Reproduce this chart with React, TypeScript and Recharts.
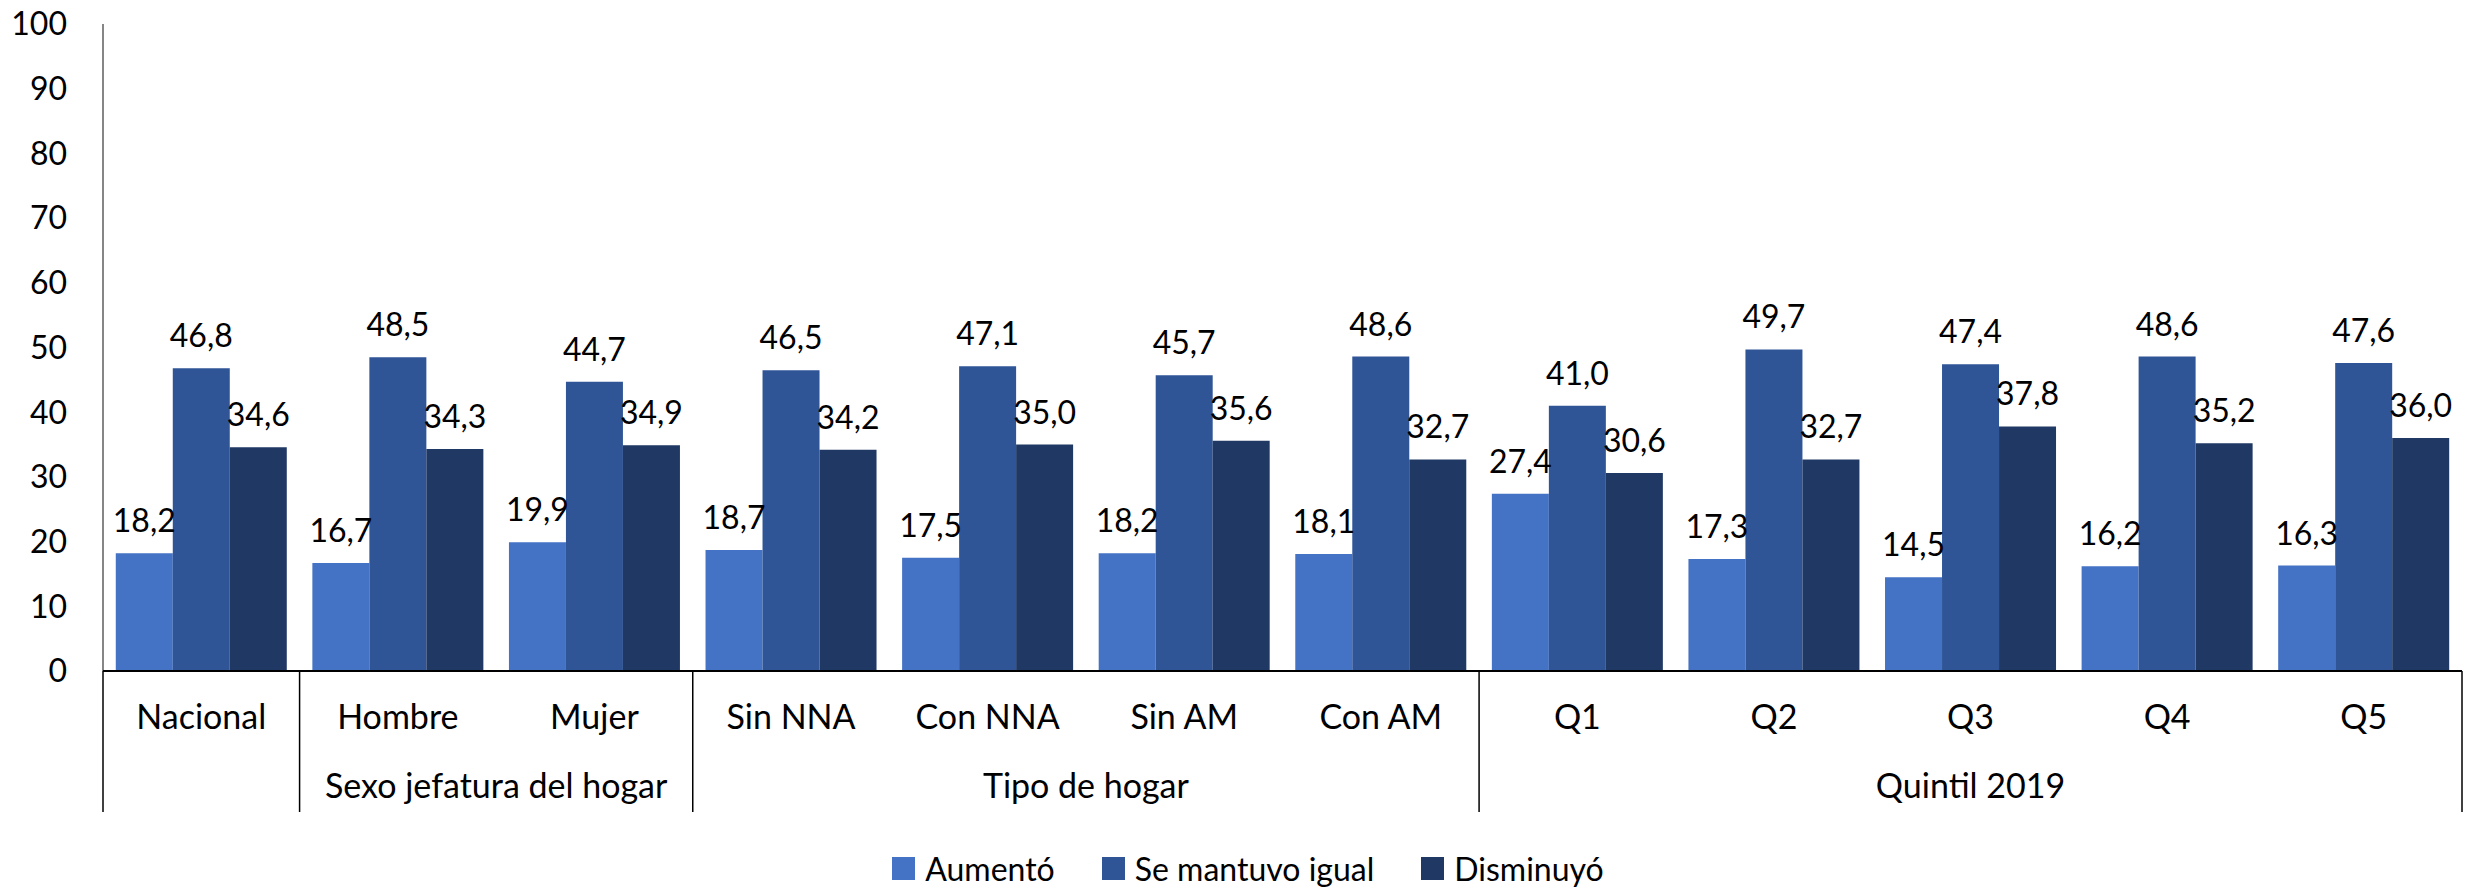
import { BarChart, Bar, XAxis, YAxis, LabelList, Legend } from 'recharts';

const CATEGORIES = ['Nacional', 'Hombre', 'Mujer', 'Sin NNA', 'Con NNA', 'Sin AM', 'Con AM', 'Q1', 'Q2', 'Q3', 'Q4', 'Q5'];
const GROUPS = [
  '',
  'Sexo jefatura del hogar', 'Sexo jefatura del hogar',
  'Tipo de hogar', 'Tipo de hogar', 'Tipo de hogar', 'Tipo de hogar',
  'Quintil 2019', 'Quintil 2019', 'Quintil 2019', 'Quintil 2019', 'Quintil 2019',
];
const AUMENTO = [18.2, 16.7, 19.9, 18.7, 17.5, 18.2, 18.1, 27.4, 17.3, 14.5, 16.2, 16.3];
const IGUAL = [46.8, 48.5, 44.7, 46.5, 47.1, 45.7, 48.6, 41.0, 49.7, 47.4, 48.6, 47.6];
const DISMINUYO = [34.6, 34.3, 34.9, 34.2, 35.0, 35.6, 32.7, 30.6, 32.7, 37.8, 35.2, 36.0];
const Y_TICKS = [0, 10, 20, 30, 40, 50, 60, 70, 80, 90, 100];

const SERIES = [
  { key: 'aumento', name: 'Aumentó', color: '#4472C4' },
  { key: 'igual', name: 'Se mantuvo igual', color: '#2F5597' },
  { key: 'disminuyo', name: 'Disminuyó', color: '#203864' },
];

const data = CATEGORIES.map((name, i) => ({
  name,
  group: GROUPS[i],
  aumento: AUMENTO[i],
  igual: IGUAL[i],
  disminuyo: DISMINUYO[i],
}));

const W = 2486;
const H = 888;
const MARGIN = { top: 24, right: 24, left: 0, bottom: 0 };
const Y_AXIS_W = 103;
const FONT = 32;
const AXIS_FONT = 34;
const LEGEND_H = 40;

const fmt = (v: any) => Number(v).toFixed(1).replace('.', ',');

// two-level category axis: item label, group label and divider lines
function CategoryTick(props: any) {
  const { x, y, payload } = props;
  const i = payload.index ?? props.index;
  const plotW = typeof props.width === 'number' ? props.width : W - MARGIN.left - MARGIN.right - Y_AXIS_W;
  const band = plotW / CATEGORIES.length;
  const group = GROUPS[i];
  const isStart = i === 0 || GROUPS[i - 1] !== group;
  const isLast = i === CATEGORIES.length - 1;
  const size = GROUPS.filter((g) => g === group).length;
  const left = x - band / 2;
  return (
    <g>
      <text x={x} y={y + 58} textAnchor="middle" fontSize={AXIS_FONT} fill="#000">
        {payload.value}
      </text>
      {isStart && <line x1={left} y1={y} x2={left} y2={y + 141} stroke="#000" strokeWidth={1.5} />}
      {isLast && <line x1={x + band / 2} y1={y} x2={x + band / 2} y2={y + 141} stroke="#000" strokeWidth={1.5} />}
      {isStart && group && (
        <text x={left + (size * band) / 2} y={y + 127} textAnchor="middle" fontSize={AXIS_FONT} fill="#000">
          {group}
        </text>
      )}
    </g>
  );
}

function LegendContent() {
  return (
    <div
      style={{
        height: LEGEND_H,
        display: 'flex',
        justifyContent: 'center',
        alignItems: 'center',
        gap: 47,
        paddingLeft: 34,
        fontFamily: 'Lato',
        fontSize: FONT,
        color: '#000',
      }}
    >
      {SERIES.map((s) => (
        <span key={s.key} style={{ display: 'flex', alignItems: 'center', gap: 10 }}>
          <span style={{ width: 23, height: 23, background: s.color, display: 'inline-block' }} />
          {s.name}
        </span>
      ))}
    </div>
  );
}

export default function App() {
  return (
    <div style={{ position: 'absolute', left: 0, top: 0, background: '#fff' }}>
      <BarChart
        width={W}
        height={H}
        data={data}
        margin={MARGIN}
        barCategoryGap="6.5%"
        barGap={0}
        style={{ fontFamily: 'Lato' }}
      >
        <YAxis
          width={Y_AXIS_W}
          domain={[0, 100]}
          ticks={Y_TICKS}
          interval={0}
          axisLine={{ stroke: '#868686', strokeWidth: 2 }}
          tickLine={false}
          tickSize={0}
          tickMargin={36}
          tick={{ fontSize: FONT, fill: '#000' }}
        />
        <XAxis
          dataKey="name"
          interval={0}
          height={H - MARGIN.top - MARGIN.bottom - 647 - LEGEND_H}
          axisLine={{ stroke: '#000', strokeWidth: 2 }}
          tickLine={false}
          tickSize={0}
          tickMargin={0}
          tick={<CategoryTick />}
        />
        <Legend verticalAlign="bottom" align="center" content={() => <LegendContent />} />
        {SERIES.map((s) => (
          <Bar key={s.key} dataKey={s.key} name={s.name} fill={s.color} isAnimationActive={false}>
            <LabelList
              dataKey={s.key}
              position="top"
              offset={21}
              formatter={fmt}
              style={{ fontSize: FONT, fill: '#000' }}
            />
          </Bar>
        ))}
      </BarChart>
    </div>
  );
}
